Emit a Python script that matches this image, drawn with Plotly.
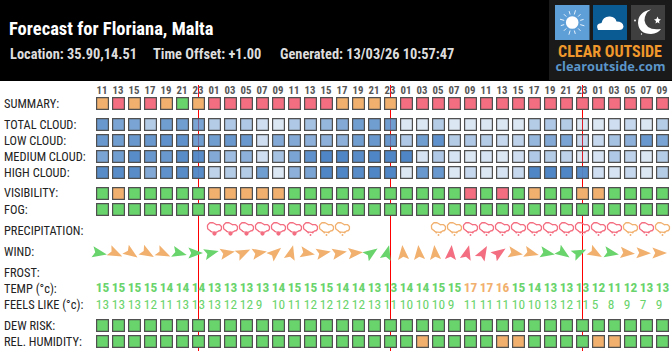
import numpy as np
import plotly.graph_objects as go

# ---------- data ----------
hours = ["11","13","15","17","19","21","23"] + ["01","03","05","07","09","11","13","15","17","19","21","23"]*2 + ["01","03","05","07","09"]
summary = list("ORORO" "GO") + ["R"]*8 + ["O"]*4 + ["R"]*17
total_cloud = [85,75,75,42,80,80,75,42,45,45,27,20,45,50,60,70,80,80,80,20,20,42,20,20,20,20,20,42,45,42,20,20,27,32,20,42]
low_cloud = [85,80,85,85,90,90,80,80,85,85,27,70,70,65,65,65,80,85,85,45,80,90,42,45,42,32,37,60,70,75,32,32,50,65,85,75]
medium_cloud = [75,80,95,85,85,95,95,70,55,65,27,50,75,90,100,100,95,100,100,100,23,45,23,20,23,20,27,45,42,37,20,23,45,37,20,42]
high_cloud = [95,95,95,70,90,95,95,37,42,42,80,20,65,75,100,100,95,100,100,20,85,85,20,32,20,23,32,100,100,100,95,27,23,32,20,42]
visibility = list("GOGGGGG") + list("OOOOO") + ["G"]*10 + list("GRGRGOGGOOGGGG")
fog = ["G"]*36
dew_risk = ["G"]*36
humidity = ["G"]*20 + ["O"] + ["G"]*4 + ["O","O"] + ["G"]*4 + ["O","O"] + ["G"]*3
# 0 none, 1 light (orange), 2 moderate (red), 3 heavy (red, big drop)
precip = [0]*7 + [3]*6 + [2,1,1,0,0,0,0,0,1,1] + [2]*10 + [1,2,1,0]
wind_dir = [100,115,125,120,115,105,90,75,80,65,80,50,15,100,80,80,85,55,15,355,355,355,5,15,30,55,100,105,100,125,65,120,100,95,92,90]
wind_col = list("GOOOOGGG") + ["O"]*9 + list("GG") + ["O"]*3 + ["R"]*4 + list("OOGGGOGOOO")
temp = [15,15,15,15,14,14,14,13,13,13,13,14,15,15,15,14,14,13,13,14,14,15,15,17,17,16,15,14,13,13,13,12,11,12,13,13]
feels = [13,13,13,12,11,13,13,13,12,12,9,10,11,12,12,12,12,13,11,10,10,10,9,11,11,11,10,10,13,12,11,5,8,9,7,9]
midnight_cols = [6, 18, 30]
row_labels = ["SUMMARY:","TOTAL CLOUD:","LOW CLOUD:","MEDIUM CLOUD:","HIGH CLOUD:","VISIBILITY:","FOG:",
              "PRECIPITATION:","WIND:","FROST:","TEMP (°c):","FEELS LIKE (°c):","DEW RISK:","REL. HUMIDITY:"]
title_text = "Forecast for Floriana, Malta"
info_texts = ["Location: 35.90,14.51", "Time Offset: +1.00", "Generated: 13/03/26 10:57:47"]
logo_texts = ["CLEAR OUTSIDE", "clearoutside.com"]

# ---------- styles ----------
W, H = 672, 352
PITCH, X0 = 16.0, 102.5
NARROW = "Roboto, sans-serif"
COL = {"G": "rgb(105,211,108)", "O": "rgb(241,176,110)", "R": "rgb(243,110,128)"}
EDGE = "#505050"
cols = np.arange(36)
label_y = [105,126,142,158,174,194,211,231.5,253,274,290,306,327,343]
info_x = [10, 153, 280]

fig = go.Figure()

# midnight lines, under the cells
for c in midnight_cols:
    fig.add_trace(go.Scatter(x=[c, c], y=[85, 351], mode="lines", line=dict(color="#f00", width=1), hoverinfo="skip"))

def cells(y, colors):
    fig.add_trace(go.Scatter(x=cols, y=[y]*36, mode="markers", hoverinfo="skip",
        marker=dict(symbol="square", size=11.8, color=colors, line=dict(color=EDGE, width=1.2))))

def cat(v):
    return [COL[k] for k in v]

def cloud(v):
    return [f"rgba(78,134,198,{p/100:.2f})" for p in v]

cells(103.5, cat(summary))
cells(124.5, cloud(total_cloud))
cells(140.5, cloud(low_cloud))
cells(156.5, cloud(medium_cloud))
cells(172.5, cloud(high_cloud))
cells(193.5, cat(visibility))
cells(209.5, cat(fog))
cells(325.5, cat(dew_risk))
cells(341.5, cat(humidity))

# hour labels
fig.add_trace(go.Scatter(x=cols-0.03, y=[91.5]*36, mode="text", text=hours, hoverinfo="skip",
    textposition="middle center", textfont=dict(family=NARROW, size=10.8, color="#555", weight="bold")))

# precipitation icons
t1 = np.radians(np.linspace(110, 325, 24))
t2 = np.radians(np.linspace(-115, 55, 20))
t3 = np.radians(np.linspace(35, 145, 9))
ix = np.concatenate([-2.9 + 4.3*np.cos(t1), 3.6 + 3.5*np.cos(t2), 5.6*np.cos(t3)])
iy = np.concatenate([-2.2 + 4.3*np.sin(t1), -1.1 + 3.5*np.sin(t2), -0.8 + 4.2*np.sin(t3)])
ix = np.append(ix, ix[0]); iy = np.append(iy, iy[0])
for level, colour, dot in [(1, COL["O"], 1.9), (2, COL["R"], 1.9), (3, COL["R"], 4.2)]:
    idx = [i for i, p in enumerate(precip) if p == level]
    xs, ys, dx, dy = [], [], [], []
    for i in idx:
        xs += list(i + ix/PITCH) + [None]
        ys += list(229 + iy) + [None]
        if level == 3:
            dx.append(i); dy.append(233.6)
        else:
            dx += [i-2.2/PITCH, i+2.2/PITCH, i]; dy += [232.6, 232.6, 235]
    fig.add_trace(go.Scatter(x=xs, y=ys, mode="lines", line=dict(color=colour, width=1.3), hoverinfo="skip"))
    fig.add_trace(go.Scatter(x=dx, y=dy, mode="markers", hoverinfo="skip",
        marker=dict(color=colour, size=dot, line=dict(width=0))))

# wind arrows
tx = np.array([0, 5.6, 0, -5.6, 0])
ty = np.array([-8.0, 6.6, 3.8, 6.6, -8.0])
for key in "GOR":
    xs, ys = [], []
    for i, (d, c) in enumerate(zip(wind_dir, wind_col)):
        if c != key:
            continue
        a = np.radians(d)
        xs += list(i - 3.5/PITCH + (tx*np.cos(a) - ty*np.sin(a))/PITCH) + [None]
        ys += list(253 + tx*np.sin(a) + ty*np.cos(a)) + [None]
    fig.add_trace(go.Scatter(x=xs, y=ys, mode="lines", fill="toself", fillcolor=COL[key],
        line=dict(width=0), hoverinfo="skip"))

# temperatures
tc = [COL["O"] if t >= 16 else COL["G"] for t in temp]
fig.add_trace(go.Scatter(x=cols-0.42, y=[289]*36, mode="text", text=[str(t) for t in temp], hoverinfo="skip",
    textposition="middle right", textfont=dict(family=NARROW, size=13.4, color=tc, weight="bold")))
fig.add_trace(go.Scatter(x=cols-0.42, y=[305.5]*36, mode="text", text=[str(t) for t in feels], hoverinfo="skip",
    textposition="middle right", textfont=dict(family=NARROW, size=13.4, color=COL["G"])))

# page texts, on the pixel axis
def txt(xs, ys, strs, size, color, weight="normal", family=NARROW, pos="middle right"):
    fig.add_trace(go.Scatter(x=xs, y=ys, xaxis="x2", yaxis="y", mode="text", text=strs, hoverinfo="skip",
        textposition=pos, textfont=dict(family=family, size=size, color=color, weight=weight)))

txt([4]*14, label_y, row_labels, 12.4, "#222")
txt([9], [30], [title_text], 18.5, "#fff", "bold")
txt(info_x, [55.5]*3, info_texts, 14.4, "#ddd", "bold")
txt([610], [53], logo_texts[:1], 16, "#f0982b", "bold", NARROW, "middle center")
txt([610.5], [68], logo_texts[1:], 12.8, "#5b95c9", "bold", "Open Sans", "middle center")

# ---------- layout ----------
def rect(x0, y0, x1, y1, color):
    return dict(type="rect", xref="x2", yref="y", x0=x0, y0=y0, x1=x1, y1=y1, fillcolor=color, line=dict(width=0), layer="below")

shapes = [rect(0, 0, W, 81, "#000"), rect(549, 0, W, 80, "#1a1a1a"),
          rect(555, 5, 589.5, 40, "#5f9fd8"), rect(593, 5, 627, 40, "#0a5a94"), rect(631, 5, 665, 40, "#3f3f3f")]
def path(d, fill="#fff", lw=0, lc="#fff"):
    return dict(type="path", xref="x2", yref="y", path=d, fillcolor=fill, line=dict(width=lw, color=lc), layer="below")
def circle(cx, cy, r):
    return dict(type="circle", xref="x2", yref="y", x0=cx-r, x1=cx+r, y0=cy-r, y1=cy+r, fillcolor="#fff", line=dict(width=0), layer="below")
shapes.append(circle(572.2, 22.5, 6.3))
for k in range(12):
    a = np.radians(30*k + 15)
    r1, r2 = 8.3, 11.8 if k % 3 else 12.6
    shapes.append(path(f"M{572.2+r1*np.cos(a):.1f},{22.5+r1*np.sin(a):.1f} L{572.2+r2*np.cos(a):.1f},{22.5+r2*np.sin(a):.1f}", "rgba(0,0,0,0)", 1, "#e8f2fb"))
shapes.append(path("M598,30 Q595,23.5 601.5,23 Q603,16 610,16.5 Q615.5,17 616.5,21.5 Q623,21.5 623.5,26.5 Q623,30 619,30 Z"))
shapes.append(path("M651,9.5 Q638,12 638,23 Q639,34 651,34 Q658,33.5 661,29 Q646,31 644.5,20.5 Q644.5,13 651,9.5 Z"))
shapes.append(path("M657.5,16.5 L658.6,19 L661,19.4 L659,21 L659.5,23.5 L657.5,22.2 L655.5,23.5 L656,21 L654,19.4 L656.4,19 Z"))
shapes.append(circle(635, 20.5, 0.9))
shapes.append(circle(641.5, 34, 0.7))

fig.update_layout(
    width=W, height=H, margin=dict(l=0, r=0, t=0, b=0), autosize=False,
    paper_bgcolor="#fff", plot_bgcolor="#fff", showlegend=False,
    xaxis=dict(range=[-X0/PITCH, (W-X0)/PITCH], visible=False, fixedrange=True),
    yaxis=dict(range=[H, 0], visible=False, fixedrange=True),
    xaxis2=dict(range=[0, W], overlaying="x", visible=False, fixedrange=True),
    shapes=shapes,
)
post = """
document.body.style.margin='0';document.body.style.overflow='hidden';
var st=document.createElement('style');
st.textContent='svg text[style*="Roboto"]{font-stretch:75%;}';
document.head.appendChild(st);
"""
fig.write_html("out.html", post_script=post, config={"displayModeBar": False})
